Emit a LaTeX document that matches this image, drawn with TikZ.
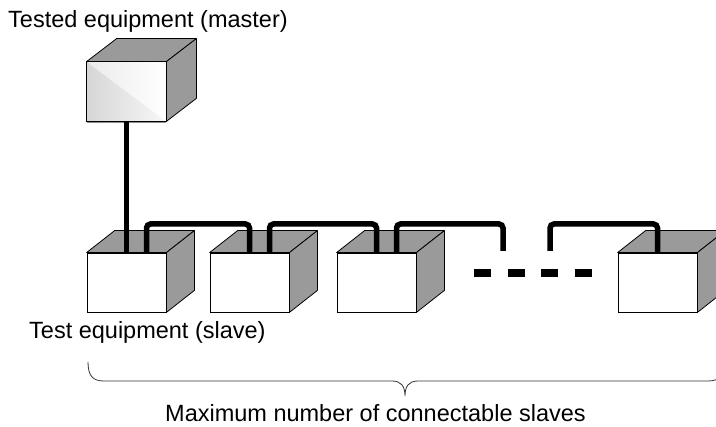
\documentclass[tikz,border=0pt]{standalone}
\usepackage{fontspec}
\setmainfont{Liberation Sans}
\usetikzlibrary{calc}
\definecolor{facegray}{HTML}{9A9A9A}
\begin{document}
\begin{tikzpicture}[x=1pt,y=-1pt,
  front/.style={draw=black, fill=white, line width=0.8pt, inner sep=0pt,
                minimum width=79pt, minimum height=59pt},
  face/.style={draw=black, fill=facegray, line width=0.8pt, line join=round},
  wire/.style={line width=5.5pt, rounded corners=4pt},
  label/.style={anchor=base west, inner sep=0pt, font=\fontsize{23.5}{27}\selectfont},
  dots/.style={line width=8pt, dash pattern=on 17pt off 16.5pt},
  bracket/.style={draw=black!80, line width=0.8pt}]
\useasboundingbox (0,0) rectangle (716,427);
\clip (0,0) rectangle (716,427);

% top and right faces of a box whose front face is node #1, depth (#2,#3)
\newcommand\boxfaces[3]{%
  \path[face] (#1.north west) -- ++(#2,-#3) -- ($(#1.north east)+(#2,-#3)$)
    -- (#1.north east) -- cycle;
  \path[face] (#1.north east) -- ++(#2,-#3) -- ($(#1.south east)+(#2,-#3)$)
    -- (#1.south east) -- cycle;}

% master unit
\node[front] (m) at (126.5,91.5) {};
\shade[left color=black!16, right color=black!3]
  (m.north west) -- (m.south east) -- (m.south west) -- cycle;
\shade[left color=black!8, right color=white]
  (m.north west) -- (m.north east) -- (m.south east) -- cycle;
\draw[line width=0.8pt] (m.north west) rectangle (m.south east);
\draw[black!45, line width=1.2pt] ([yshift=-1pt]m.south west) -- ([yshift=-1pt]m.south east);
\boxfaces{m}{30}{23}

% slave units
\node[front] (s1) at (126.5,282.5) {};
\node[front] (s2) at (249.5,282.5) {};
\node[front] (s3) at (376.5,282.5) {};
\node[front] (s4) at (657.5,282.5) {};
\boxfaces{s1}{28}{22}
\boxfaces{s2}{28}{22}
\boxfaces{s3}{28}{22}
\boxfaces{s4}{28}{22}

% cabling
\coordinate (wy) at (0,224);
\coordinate (c1) at (503,251);
\coordinate (c2) at (550,251);
\draw[wire] (m.south) -- (s1.north);
\draw[wire] ([xshift=20pt]s1.north) -- ([xshift=20pt]s1.north |- wy) -| (s2.north);
\draw[wire] ([xshift=20pt]s2.north) -- ([xshift=20pt]s2.north |- wy) -| (s3.north);
\draw[wire] ([xshift=20pt]s3.north) -- ([xshift=20pt]s3.north |- wy) -| (c1);
\draw[wire] (c2) -- (c2 |- wy) -| (s4.north);

% omitted units
\coordinate (d1) at (474,273);
\coordinate (d2) at (591.5,273);
\draw[dots] (d1) -- (d2);

% brace under the slaves
\draw[bracket] (88,362) .. controls (88,376) and (93,381) .. (104,381) -- (392,381)
  .. controls (401,381) and (405,386) .. (405,396)
  .. controls (405,386) and (409,381) .. (418,381) -- (708,381)
  .. controls (719,381) and (724,376) .. (724,362);

% labels
\node[label] (tm) at (8,28) {Tested equipment (master)};
\node[label] (ts) at (29,339) {Test equipment (slave)};
\node[label] (tx) at (165,422) {Maximum number of connectable slaves};
\end{tikzpicture}
\end{document}
